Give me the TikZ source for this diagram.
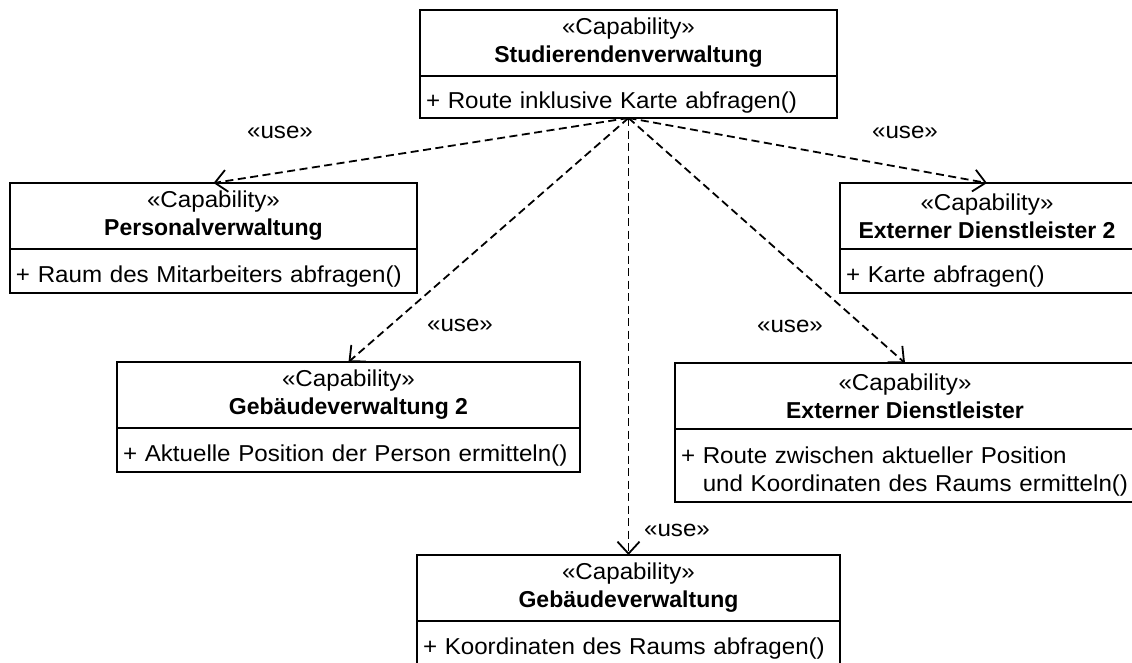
\documentclass[tikz,border=0pt]{standalone}
\usepackage{fontspec}
\setmainfont{Liberation Sans}[UprightFeatures={FakeStretch=1.05}]
\usepackage{tikz}
\usetikzlibrary{
    arrows.meta,
    positioning
}
\tikzset{
    % Class header - stereotype and name
    capability/.style={
        draw,
        line width=2pt,
        outer sep=0pt,
        inner sep=0pt,
        minimum width=#1,
        minimum height=66pt,
        align=center,
        font=\fontsize{23}{28}\selectfont,
        execute at begin node={\rule{0pt}{21pt}},
    },
    % Operations compartment below the header
    operations/.style={
        draw,
        line width=2pt,
        outer sep=0pt,
        inner xsep=6pt,
        inner ysep=0pt,
        text width=#1,
        minimum height=44pt,
        align=left,
        font=\fontsize{23}{28}\selectfont,
        execute at begin node={\rule{0pt}{28pt}},
    },
    % Dependency arrow - dashed with open head
    use arrow/.style={
        -{Straight Barb[length=12pt, width=22pt]},
        line width=1.8pt,
        dash pattern=on 8pt off 4.5pt,
    },
    % Stereotype label on a dependency
    use label/.style={
        font=\fontsize{23}{28}\selectfont,
        inner sep=0pt,
    },
}

\begin{document}
\begin{tikzpicture}[x=1pt, y=-1pt]
    \useasboundingbox (0,0) rectangle (1132,662);
    \clip (0,0) rectangle (1132,662);

    \node (stud) [capability=417pt, anchor=north] at (628.5,10) {«Capability»\\\textbf{Studierendenverwaltung}};
    \node (stud-ops) [operations=405pt, below=0pt of stud, minimum height=42pt] {+ Route inklusive Karte abfragen()};

    \node (pers) [capability=407pt, anchor=north] at (213.5,183) {«Capability»\\\textbf{Personalverwaltung}};
    \node (pers-ops) [operations=395pt, below=0pt of pers] {+ Raum des Mitarbeiters abfragen()};

    \node (ext2) [capability=294pt, anchor=north] at (987,183) {«Capability»\\\textbf{Externer Dienstleister 2}};
    \node (ext2-ops) [operations=282pt, below=0pt of ext2] {+ Karte abfragen()};

    \node (geb2) [capability=463pt, anchor=north] at (348.5,362) {«Capability»\\\textbf{Gebäudeverwaltung 2}};
    \node (geb2-ops) [operations=451pt, below=0pt of geb2] {+ Aktuelle Position der Person ermitteln()};

    \node (ext) [capability=460pt, anchor=north] at (905,363) {«Capability»\\\textbf{Externer Dienstleister}};
    \node (ext-ops) [operations=448pt, below=0pt of ext, minimum height=73pt] {+ Route zwischen aktueller Position\\\hphantom{+ }und Koordinaten des Raums ermitteln()};

    \node (geb) [capability=423pt, anchor=north] at (628.5,555) {«Capability»\\\textbf{Gebäudeverwaltung}};
    \node (geb-ops) [operations=411pt, below=0pt of geb] {+ Koordinaten des Raums abfragen()};

    \draw [use arrow] (stud-ops.south) -- (pers.north);
    \draw [use arrow] (stud-ops.south) -- (ext2.north);
    \draw [use arrow] (stud-ops.south) -- (geb2.north);
    \draw [use arrow] (stud-ops.south) -- (ext.north);
    \draw [use arrow] (stud-ops.south) -- (geb.north);

    \node (use-pers) [use label] at (280,132) {«use»};
    \node (use-ext2) [use label] at (905,132) {«use»};
    \node (use-geb2) [use label] at (460,325) {«use»};
    \node (use-ext) [use label] at (790,326) {«use»};
    \node (use-geb) [use label] at (677,530) {«use»};
\end{tikzpicture}
\end{document}
